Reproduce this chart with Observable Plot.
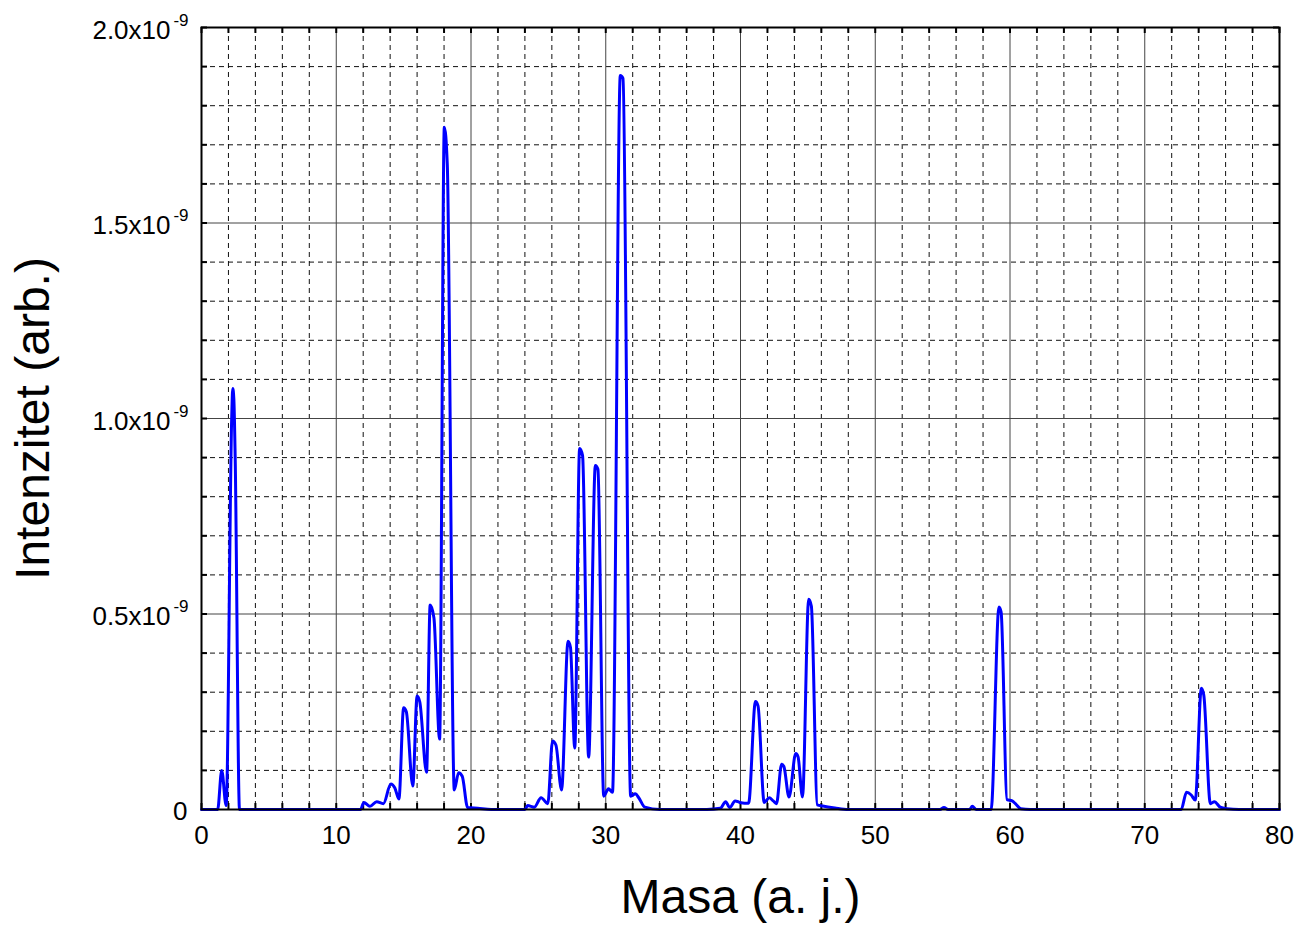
<!DOCTYPE html>
<html>
<head>
<meta charset="utf-8">
<script src="https://cdn.jsdelivr.net/npm/d3@7"></script>
<script src="https://cdn.jsdelivr.net/npm/@observablehq/plot@0.6"></script>
<style>
  html, body { margin: 0; padding: 0; background: #fff; }
</style>
</head>
<body>
<div id="chart"></div>
<script>
// Mass (a. j.) sample positions
const mass = [
  0, 1.2, 1.5, 1.83, 2.24, 2.32, 2.4, 2.5, 2.82, 2.9,
  11.8, 12.05, 12.5, 13.0, 13.5, 14.05, 14.35, 14.65, 15.0, 15.2,
  15.68, 16.0, 16.2, 16.7, 16.97, 17.25, 17.67, 18.02, 18.24, 18.76,
  19.08, 19.35, 19.75, 20.5, 21.5,
  24.0, 24.2, 24.7, 25.2, 25.7, 26.05, 26.3, 26.72, 27.2, 27.38,
  27.7, 28.06, 28.28, 28.73, 29.23, 29.42, 29.85, 30.2, 30.5, 31.08,
  31.28, 31.85, 32.2, 32.45, 32.9, 34.0,
  37.5, 38.5, 38.9, 39.2, 39.6, 39.95, 40.3, 40.6, 41.11, 41.3,
  41.76, 42.13, 42.43, 42.67, 43.05, 43.22, 43.6, 44.1, 44.27, 44.6,
  45.06, 45.26, 45.7, 46.1, 47.0, 48.0,
  54.8, 55.1, 55.4, 57.0, 57.2, 57.5, 58.6, 59.18, 59.34, 59.78,
  60.16, 60.4, 60.8, 61.5,
  72.7, 73.1, 73.45, 73.75, 74.2, 74.38, 74.87, 75.17, 75.6, 76.1,
  77.0, 80.0
];
// Intensity in units of 10^-9 (arb.)
const intensity = [
  0, 0, 0.10, 0.01, 1.0, 1.077, 1.05, 0.9, 0.0, 0,
  0, 0.018, 0.008, 0.02, 0.015, 0.065, 0.055, 0.027, 0.26, 0.25,
  0.06, 0.29, 0.275, 0.095, 0.523, 0.49, 0.18, 1.745, 1.65, 0.05,
  0.094, 0.085, 0.005, 0.003, 0,
  0, 0.01, 0.006, 0.03, 0.015, 0.175, 0.165, 0.05, 0.43, 0.415,
  0.157, 0.923, 0.905, 0.134, 0.88, 0.87, 0.034, 0.053, 0.044, 1.877,
  1.87, 0.034, 0.04, 0.03, 0.006, 0,
  0, 0.003, 0.02, 0.005, 0.022, 0.018, 0.016, 0.016, 0.276, 0.265,
  0.018, 0.03, 0.022, 0.015, 0.116, 0.11, 0.032, 0.143, 0.135, 0.032,
  0.538, 0.52, 0.012, 0.009, 0.004, 0,
  0, 0.005, 0, 0, 0.008, 0, 0, 0.518, 0.505, 0.025,
  0.022, 0.015, 0.002, 0,
  0, 0.044, 0.037, 0.024, 0.31, 0.293, 0.015, 0.02, 0.006, 0.002,
  0, 0
];

const xTickValues = [0, 10, 20, 30, 40, 50, 60, 70, 80];
const xMinorValues = [2, 4, 6, 8, 12, 14, 16, 18, 22, 24, 26, 28, 32, 34, 36, 38, 42, 44, 46, 48, 52, 54, 56, 58, 62, 64, 66, 68, 72, 74, 76, 78];
const yTickValues = [0, 0.5, 1.0, 1.5, 2.0];
const yTickMantissa = ["0", "0.5x10", "1.0x10", "1.5x10", "2.0x10"];
const yTickExponent = ["", "-9", "-9", "-9", "-9"];
const yMinorValues = [0.1, 0.2, 0.3, 0.4, 0.6, 0.7, 0.8, 0.9, 1.1, 1.2, 1.3, 1.4, 1.6, 1.7, 1.8, 1.9];
const xTitle = "Masa (a. j.)";
const yTitle = "Intenzitet (arb.)";

const series = mass.map((m, i) => ({m, v: intensity[i]}));
const yTicks = yTickValues.map((v, i) => ({v, mant: yTickMantissa[i], exp: yTickExponent[i]}));
const allX = xTickValues.concat(xMinorValues);
const allY = yTickValues.concat(yMinorValues);

const W = 1299, H = 928;
const mL = 201, mR = 20, mT = 27, mB = 119;
const innerW = W - mL - mR, innerH = H - mT - mB;
const font = "'Liberation Sans', Arial, Helvetica, sans-serif";

const chart = Plot.plot({
  width: W,
  height: H,
  marginLeft: mL,
  marginRight: mR,
  marginTop: mT,
  marginBottom: mB,
  style: {fontFamily: font, fontSize: "26px", background: "#fff", color: "#000", overflow: "visible"},
  x: {domain: [0, 80], label: null},
  y: {domain: [0, 2], axis: null, label: null},
  marks: [
    // minor dashed grid
    Plot.ruleX(xMinorValues, {x: d => d, stroke: "#111", strokeWidth: 1, strokeDasharray: "5,4"}),
    Plot.ruleY(yMinorValues, {y: d => d, stroke: "#111", strokeWidth: 1, strokeDasharray: "5,4"}),
    // major solid grid
    Plot.ruleX(xTickValues, {x: d => d, stroke: "#444", strokeWidth: 1}),
    Plot.ruleY(yTickValues, {y: d => d, stroke: "#444", strokeWidth: 1}),
    // inward ticks on all four sides
    Plot.tickX(allX, {x: d => d, stroke: "#000", strokeWidth: 2, insetTop: innerH - 6}),
    Plot.tickX(allX, {x: d => d, stroke: "#000", strokeWidth: 2, insetBottom: innerH - 6}),
    Plot.tickY(allY, {y: d => d, stroke: "#000", strokeWidth: 2, insetRight: innerW - 6}),
    Plot.tickY(allY, {y: d => d, stroke: "#000", strokeWidth: 2, insetLeft: innerW - 6}),
    // data
    Plot.line(series, {x: "m", y: "v", stroke: "#0000ff", strokeWidth: 3, curve: "monotone-x"}),
    Plot.frame({stroke: "#000", strokeWidth: 2}),
    // x tick labels
    Plot.axisX(xTickValues, {anchor: "bottom", tickSize: 0, tickPadding: 16, fontSize: 26, label: null}),
    // y tick labels
    Plot.text(yTicks.filter(d => d.exp), {y: "v", text: "mant", frameAnchor: "left", textAnchor: "end", dx: -31, dy: 3, fontSize: 26}),
    Plot.text(yTicks.filter(d => d.exp), {y: "v", text: "exp", frameAnchor: "left", textAnchor: "end", dx: -13, dy: -7, fontSize: 17}),
    Plot.text(yTicks.filter(d => !d.exp), {y: "v", text: "mant", frameAnchor: "left", textAnchor: "end", dx: -14, dy: 2, fontSize: 26}),
    // axis titles
    Plot.text([xTitle], {text: d => d, frameAnchor: "bottom", dy: 103, fontSize: 48, textAnchor: "middle"}),
    Plot.text([yTitle], {text: d => d, frameAnchor: "left", dx: -168, rotate: -90, fontSize: 48, textAnchor: "middle"})
  ]
});
document.getElementById("chart").appendChild(chart);
</script>
</body>
</html>
